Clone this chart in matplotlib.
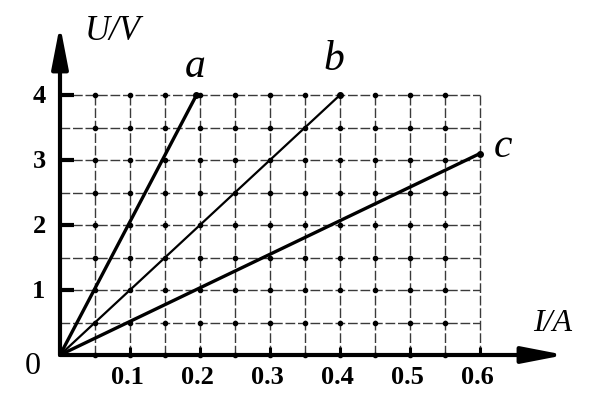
import matplotlib
matplotlib.use("Agg")
import matplotlib.pyplot as plt
import numpy as np

# data
line_names = ["a", "b", "c"]
line_I = [[0, 0.195], [0, 0.4], [0, 0.6]]
line_U = [[0, 4.0], [0, 4.0], [0, 3.1]]
x_ticks = [0.1, 0.2, 0.3, 0.4, 0.5, 0.6]
x_tick_labels = ["0.1", "0.2", "0.3", "0.4", "0.5", "0.6"]
y_ticks = [1, 2, 3, 4]
y_tick_labels = ["1", "2", "3", "4"]
grid_I = np.arange(0.05, 0.601, 0.05)
grid_U = np.arange(0.5, 4.01, 0.5)

# pixel layout: origin at (60, 355), 700 px per A, 65 px per V
W, H = 600, 400
ox, oy, sx, sy = 60, 355, 700.0, 65.0

fig = plt.figure(figsize=(6, 4), dpi=100)
ax = fig.add_axes([0, 0, 1, 1])
ax.set_xlim(-ox / sx, (W - ox) / sx)
ax.set_ylim(-(H - oy) / sy, oy / sy)
ax.axis("off")

serif = ["Liberation Serif", "DejaVu Serif"]
gcol = "#3a3a3a"
dash = (0, (7, 2))

# grid
ax.vlines(grid_I, 0, 4, colors=gcol, linewidth=1.0, linestyles=dash, zorder=1)
ax.hlines(grid_U, 0, 0.6, colors=gcol, linewidth=1.0, linestyles=dash, zorder=1)
gx, gy = np.meshgrid(grid_I[:-1], np.concatenate([[0], grid_U]))
ax.plot(gx.ravel(), gy.ravel(), "o", color="k", markersize=3.0, zorder=2)

# axes with arrows
arrow = dict(arrowstyle="-|>,head_length=1.7,head_width=0.33",
             mutation_scale=15, lw=3, color="k", shrinkA=0, shrinkB=0)
ax.annotate("", xy=(0, (oy - 25) / sy), xytext=(0, 0), arrowprops=arrow, zorder=5)
ax.annotate("", xy=((565 - ox) / sx, 0), xytext=(0, 0), arrowprops=arrow, zorder=5)

# short tick marks
ax.hlines(y_ticks, 0, 0.02, colors="k", linewidth=3, zorder=4)
ax.vlines(x_ticks, 0, 0.12, colors="k", linewidth=2.2, zorder=4)

# lines a, b, c
widths = [2.4, 1.6, 2.4]
for I, U, lw in zip(line_I, line_U, widths):
    ax.plot(I, U, color="k", linewidth=lw, solid_capstyle="round", zorder=3)
    ax.plot(I[-1], U[-1], "o", color="k", markersize=4, zorder=3)

# labels of the lines
name_pos = [(0.193, 4.44), (0.391, 4.54), (0.633, 3.2)]
for name, (px, py) in zip(line_names, name_pos):
    ax.text(px, py, name, family=serif, style="italic", fontsize=30,
            ha="center", va="center")

# tick labels
for t, lab in zip(x_ticks, x_tick_labels):
    ax.text(t - 0.004, -0.34, lab, family=serif, fontsize=19, fontweight="bold",
            ha="center", va="center")
for t, lab in zip(y_ticks, y_tick_labels):
    ax.text(-0.03, t - 0.03, lab, family=serif, fontsize=19, fontweight="bold",
            ha="center", va="center")
ax.text(-0.039, -0.17, "0", family=serif, fontsize=23,
        ha="center", va="center")

# axis titles
ax.text(0.0757, 4.97, "U/V", family=serif, style="italic", fontsize=25,
        ha="center", va="center")
ax.text(0.704, 0.49, "I/A", family=serif, style="italic", fontsize=23,
        ha="center", va="center")

fig.savefig("out.png", dpi=100, facecolor="white")
